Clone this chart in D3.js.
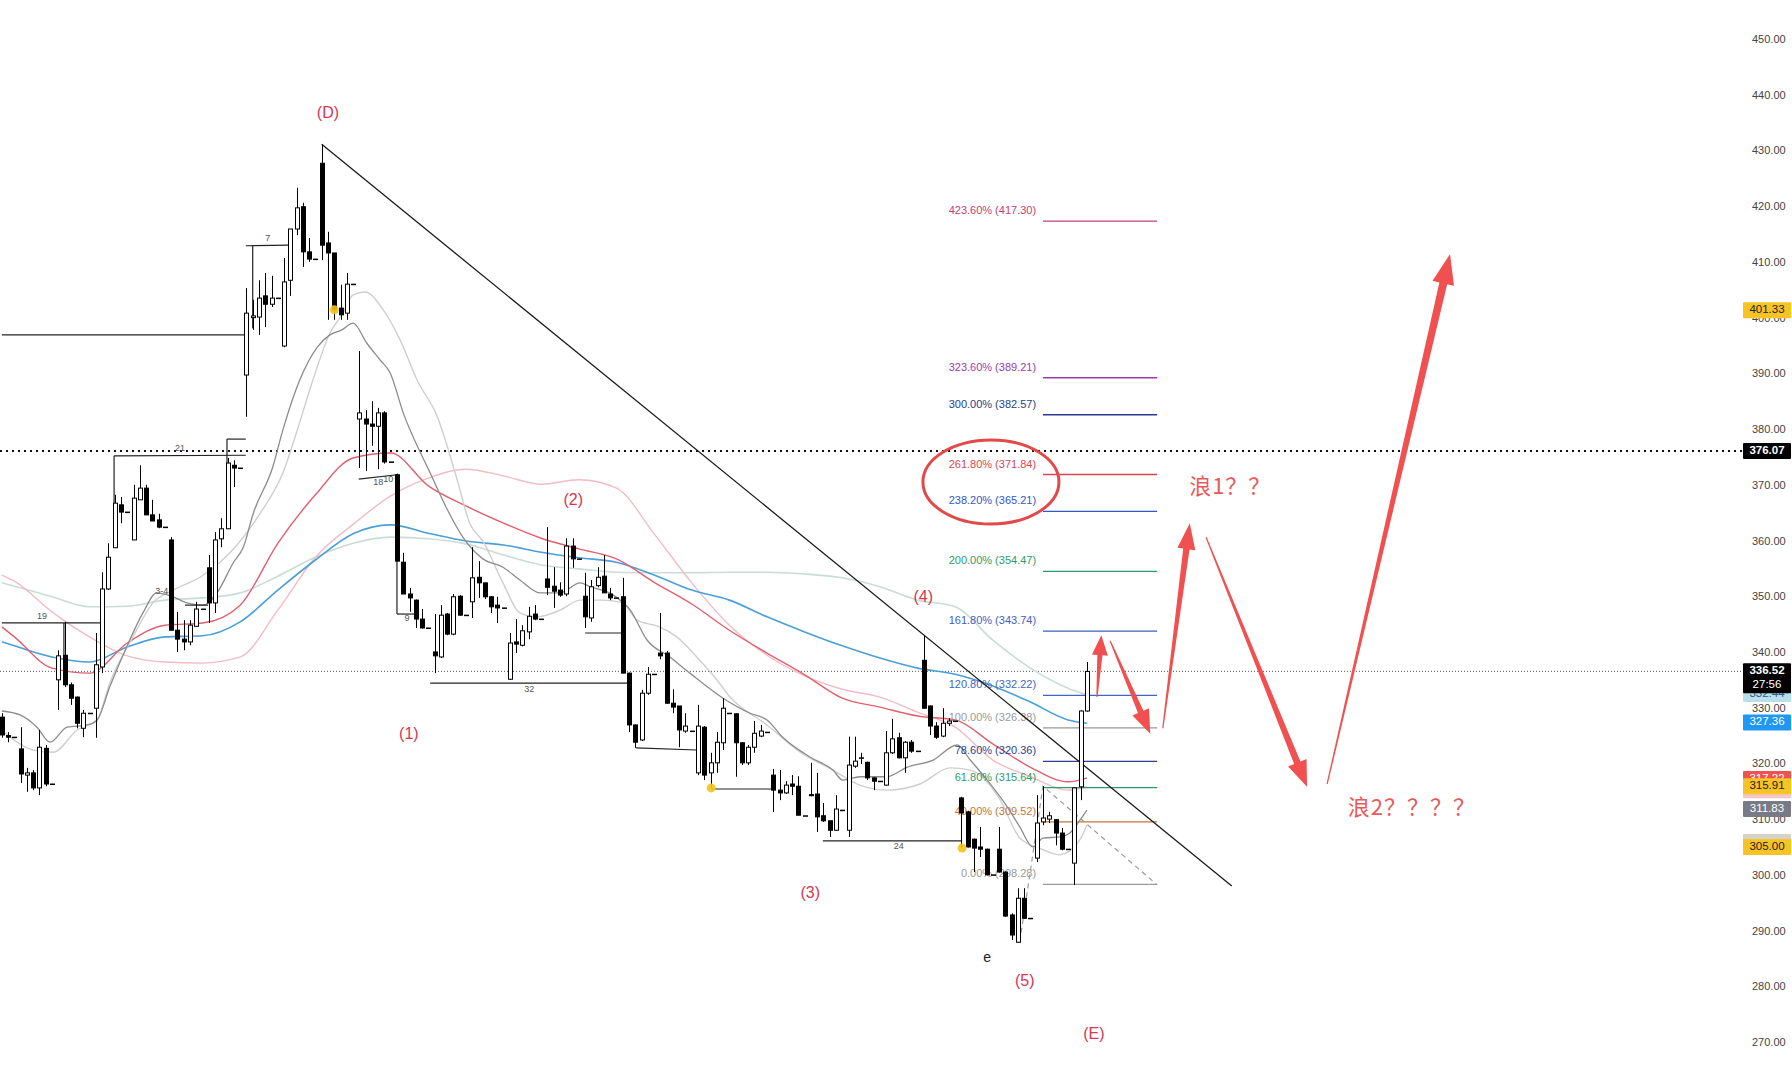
<!DOCTYPE html>
<html><head><meta charset="utf-8">
<script src="https://cdn.jsdelivr.net/npm/d3@7"></script>
<style>html,body{margin:0;padding:0;background:#fff;}svg{display:block;}</style>
</head><body>
<svg id="chart" width="1792" height="1080"></svg>
<script>
// ---------------- DATA ----------------
// one slot per trading period (index 0..173)
const opens = [328.3,325.0,324.7,322.6,317.9,318.3,315.6,322.7,316.3,335.0,339.4,334.1,331.9,326.3,329.0,329.9,337.3,351.3,358.7,366.4,365.1,360.1,367.3,369.4,364.6,363.7,362.4,360.1,343.9,342.3,341.8,344.6,347.7,355.1,348.8,360.3,362.1,373.5,373.0,389.7,400.0,400.1,403.9,402.4,403.5,394.9,406.7,415.9,419.9,411.8,410.5,427.7,413.4,411.6,401.7,400.8,406.0,381.8,381.8,380.9,380.5,382.9,374.1,371.8,356.1,350.4,349.3,345.9,344.3,340.0,339.1,346.8,343.2,350.0,346.6,349.0,353.4,352.4,349.9,348.4,347.9,335.1,341.8,341.2,343.6,346.8,345.9,353.1,351.8,351.1,350.4,359.0,356.7,350.0,346.1,351.9,353.6,350.4,349.7,349.9,336.2,326.9,324.2,332.6,336.0,339.8,339.8,330.8,330.3,325.8,325.8,318.3,326.5,318.3,320.1,323.7,329.0,328.9,323.7,320.1,322.9,324.9,325.6,317.9,315.2,314.7,316.3,315.9,310.6,314.4,314.5,310.6,309.7,308.0,311.6,308.0,319.5,321.0,320.2,317.4,316.8,316.1,321.9,324.6,321.0,323.8,322.2,338.5,330.3,326.7,324.9,327.2,327.6,313.8,311.3,306.4,305.0,304.6,300.0,304.6,300.5,292.8,287.9,295.8,292.2,303.0,309.5,310.0,309.9,307.5,304.6,302.1,315.8,329.4];
const highs = [329.0,325.6,324.7,326.5,319.2,318.8,326.0,323.3,316.3,340.3,345.4,334.5,332.0,329.6,329.0,343.4,354.3,359.5,368.2,367.8,365.1,370.0,373.5,370.0,367.3,364.8,362.4,360.6,347.2,345.7,345.7,349.0,347.7,357.4,361.5,364.0,374.8,374.4,373.0,405.3,403.2,406.7,408.0,407.5,403.5,410.7,415.9,423.3,420.6,414.3,410.5,431.0,415.4,411.6,405.9,408.0,406.0,394.0,383.4,385.0,383.8,383.2,374.1,372.0,357.8,351.5,349.4,347.7,344.3,346.8,348.4,347.0,350.4,350.2,346.6,358.8,356.3,352.4,350.0,349.9,347.9,343.4,345.9,344.8,348.1,348.4,345.9,362.4,355.2,352.5,360.4,360.4,356.7,354.2,352.9,355.2,357.4,351.5,349.7,353.3,336.3,327.0,333.2,337.3,336.0,347.0,340.2,333.3,330.3,329.0,325.8,330.5,326.7,321.9,325.6,331.7,329.0,329.0,323.8,323.3,327.6,326.9,325.6,319.0,318.8,316.8,317.9,317.7,310.6,320.1,318.3,312.9,309.7,314.3,311.6,324.8,324.8,321.9,320.3,317.5,316.8,325.8,328.0,325.5,324.0,324.2,322.2,342.9,330.4,327.4,329.9,328.1,327.6,314.0,311.5,306.5,308.6,304.7,300.0,308.6,300.6,293.1,297.6,297.6,292.2,314.3,315.9,311.3,310.0,308.4,304.6,315.7,329.5,338.2];
const lows = [324.6,323.8,324.7,316.5,314.9,315.2,314.3,315.9,316.3,329.6,333.7,330.5,326.3,324.7,329.0,324.6,336.2,351.1,358.7,363.1,365.1,360.1,367.3,364.6,363.5,362.2,362.4,343.9,340.0,340.3,341.2,344.5,347.7,345.2,347.0,358.8,362.1,369.6,373.0,382.2,397.8,396.9,398.3,401.9,403.5,394.7,403.9,414.8,409.1,410.0,410.5,410.3,399.6,399.6,399.6,399.6,406.0,373.0,372.5,377.0,372.8,373.8,374.1,356.3,350.4,347.2,344.3,344.2,344.3,336.2,338.9,343.0,343.0,346.5,346.6,346.1,349.7,349.5,347.0,345.2,347.9,335.0,339.8,341.0,342.3,345.7,345.9,350.2,347.9,349.9,350.0,355.1,356.7,344.3,345.4,351.6,350.6,349.3,349.7,336.2,325.6,322.8,324.0,332.3,336.0,338.7,330.7,329.0,322.9,325.5,325.8,317.9,317.0,315.6,318.3,322.4,329.0,317.6,319.7,319.7,321.9,324.7,325.6,311.3,313.4,314.5,314.3,310.7,310.6,314.1,307.7,309.5,306.8,307.9,311.6,306.8,319.2,319.9,317.0,315.2,316.8,316.0,321.7,320.9,318.3,321.9,322.2,329.8,325.1,324.4,324.7,326.7,327.6,304.8,304.9,300.5,303.2,299.9,300.0,300.4,292.5,288.3,287.8,292.1,292.2,302.3,308.9,309.3,305.3,304.4,304.6,298.2,313.4,329.3];
const closes = [325.1,324.7,324.7,318.1,318.3,315.6,322.9,316.3,316.3,339.3,334.1,331.7,327.2,329.0,329.0,337.7,351.3,357.0,366.7,365.1,365.1,367.6,369.4,364.6,363.5,362.4,362.4,343.9,342.3,341.8,344.8,347.7,347.7,348.8,360.1,362.1,373.9,373.0,373.0,400.8,400.3,403.5,402.4,403.5,403.5,406.4,415.9,419.7,411.8,410.5,410.5,413.0,411.6,401.4,400.5,406.0,406.0,382.9,380.9,380.5,382.9,374.1,374.1,356.3,350.4,349.7,345.9,344.3,344.3,339.3,346.6,343.2,349.9,346.6,346.6,353.3,352.4,349.9,348.1,347.9,347.9,341.6,341.4,343.8,346.4,345.9,345.9,351.6,350.9,350.2,359.0,356.7,356.7,346.3,351.7,353.4,350.6,349.7,349.7,336.2,326.9,323.8,332.6,336.0,336.0,339.3,330.8,330.1,326.0,326.7,325.8,326.7,317.9,320.1,323.8,329.9,329.0,323.7,320.1,322.9,325.4,325.8,325.6,315.2,314.7,316.1,315.9,310.7,310.6,314.2,310.4,309.7,308.0,311.8,311.6,319.7,320.4,321.0,317.4,316.8,316.8,321.9,324.4,321.0,323.8,322.2,322.2,329.9,326.7,324.7,327.2,327.6,327.6,311.1,305.0,304.8,304.6,300.0,300.0,300.5,292.6,289.2,295.8,292.2,292.2,309.3,310.2,310.6,307.5,304.6,304.6,315.6,329.4,336.5];

// moving averages read at sample slots
const maSlots = [0,2,8,14,20,26,32,38,44,50,56,62,68,74,80,86,92,98,104,110,116,122,128,134,140,146,152,158,164,170,173];
const tealMA = [352.4,351.8,349.9,348.1,348.2,349.3,349.7,350.6,353.6,357.0,359.5,360.6,360.3,359.4,357.4,355.6,354.9,354.3,354.2,354.2,354.3,354.3,354.0,353.3,351.7,349.3,348.1,342.1,337.1,333.5,332.3];
const blueMA = [341.8,341.1,339.1,338.2,340.9,342.7,342.9,345.4,351.1,356.5,361.2,362.8,361.3,359.9,359.2,357.9,356.9,356.1,353.8,351.1,349.3,346.3,343.6,341.1,338.9,337.1,336.0,333.9,331.0,327.8,327.2];
const pinkMA = [353.8,352.7,347.2,342.7,339.3,338.2,338.0,339.1,347.5,357.0,362.9,368.0,371.2,372.8,371.6,370.1,370.9,369.4,361.2,352.4,344.8,339.4,335.7,333.3,331.9,329.2,326.5,320.6,317.6,315.2,315.8];
const redMA = [344.5,342.7,337.1,336.2,341.6,344.8,345.2,348.4,359.5,368.2,374.8,375.7,369.8,366.2,363.1,360.4,358.5,356.7,352.5,348.6,343.9,339.8,335.9,331.7,330.1,328.5,327.8,323.5,319.3,316.7,317.4];
const darkGrayMA = [[0,329.4],[2.9,328.7],[5.6,326.5],[7.7,323.8],[10.4,326.5],[13.6,326.9],[15.2,327.8],[17.2,333.7],[19.9,340.9],[22.5,347.0],[24.7,350.6],[27.3,349.9],[29.5,348.8],[32.1,348.4],[34.3,350.6],[36.9,356.0],[38.5,358.8],[40.1,364.9],[43.2,373.2],[44.8,379.8],[47.5,388.8],[50.3,394.7],[52.3,396.9],[54.2,397.8],[56.0,399.0],[58.2,395.4],[60.3,392.4],[61.9,390.1],[64.0,382.9],[68.3,372.1],[71.0,365.6],[73.5,360.6],[76.7,356.7],[79.9,355.2],[82.6,352.9],[85.8,350.6],[89.0,350.6],[92.2,352.4],[93.8,351.7],[97.5,350.2],[100.2,347.5],[102.9,342.1],[106.5,339.1],[109.7,336.2],[115.0,331.7],[119.3,329.0],[122.0,327.8],[124.5,324.7],[128.9,321.1],[132.5,318.8],[134.1,317.0],[136.8,317.6],[141.1,317.6],[144.3,319.3],[148.5,320.6],[152.3,323.3],[154.4,320.6],[157.1,317.0],[160.3,312.2],[162.3,308.6],[164.4,305.0],[166.0,306.6],[168.7,306.8],[170.3,307.5],[171.9,309.8],[173.0,311.6]];
const lightGrayMA = [[0,326.0],[5.0,322.4],[8.2,322.0],[12.0,326.0],[15.2,327.8],[17.2,334.4],[20.9,342.7],[24.1,348.8],[27.3,351.1],[31.6,353.4],[34.8,356.1],[37.5,359.2],[41.2,364.9],[44.8,372.1],[47.1,379.8],[49.6,388.8],[52.3,397.2],[54.4,400.8],[56.0,404.1],[57.9,404.6],[60.8,401.4],[63.5,396.0],[66.2,388.8],[69.4,382.3],[72.6,370.9],[74.6,363.1],[76.7,359.9],[79.9,352.4],[82.6,347.0],[85.3,346.3],[89.0,347.5],[92.2,349.3],[95.9,349.3],[99.0,348.8],[101.3,345.7],[104.9,344.5],[107.6,342.7],[110.8,339.1],[114.0,335.0],[116.1,331.9],[122.0,326.9],[127.3,322.0],[132.5,318.8],[136.8,316.1],[141.1,315.2],[146.4,316.3],[151.2,319.2],[154.4,318.8],[159.2,313.4],[162.3,306.6],[166.0,304.5],[168.7,303.6],[171.9,306.3],[173.0,309.0]];

// fibonacci extension levels
const fibRatios = [423.6,323.6,300.0,261.8,238.2,200.0,161.8,120.8,100.0,78.6,61.8,40.0,0.0];
const fibPrices = [417.30,389.21,382.57,371.84,365.21,354.47,343.74,332.22,326.38,320.36,315.64,309.52,298.28];
const fibColors = ['#c2407a','#9c3ca8','#2b3d8f','#d9474f','#3456c6','#2e9a6a','#3f5fc4','#3f66c4','#9a9a9a','#2e3f8f','#2e9a6a','#c4773c','#9a9a9a'];
const fibFrom = 166.0, fibTo = 184.2, fibLabelAt = 164.9;

// axis
const tickValues = [270,280,290,300,310,320,330,340,350,360,370,380,390,400,410,420,430,440,450];
const boxValues = [401.33,376.07,332.44,336.52,327.36,317.22,315.20,315.91,311.83,305.90,305.00];
const boxTexts  = ['401.33','376.07','332.44','336.52','327.36','317.22','','315.91','311.83','','305.00'];
const boxBg     = ['#f7c325','#000000','#b9e0ea','#000000','#2196f3','#ef5350','#f5c6cc','#f7c325','#787b86','#d4d4cc','#f7c325'];
const boxFg     = ['#222','#fff','#2a5a8a','#fff','#fff','#fff','#222','#222','#fff','#222','#222'];

// wave labels [slot, price, text]
const waveLabels = [[52.0,436.5,'(D)'],[64.9,325.1,'(1)'],[91.1,367.1,'(2)'],[128.9,296.6,'(3)'],[146.9,349.7,'(4)'],[163.1,280.8,'(5)'],[174.1,271.3,'(E)']];
const trendLine = [[51.0,431.1],[196.1,298.0]];
const markerDots = [[53.0,401.4],[113.1,315.6],[153.1,304.8]];
// bracket segments [[slot,price],[slot,price]]
const brackets = [
 [[0,396.9],[38.9,396.9]],
 [[38.9,412.9],[45.8,413.0]],[[40.0,412.9],[40.0,398.1]],
 [[17.9,375.2],[38.9,375.3]],[[17.9,375.2],[17.9,366.7]],
 [[35.9,378.2],[38.9,378.2]],[[35.9,378.2],[35.9,373.9]],
 [[0,345.2],[15.7,345.2]],[[9.9,345.2],[9.9,339.1]],
 [[29.2,348.4],[32.9,348.4]],
 [[56.9,371.0],[63.0,371.8]],[[63.0,371.8],[63.0,346.8]],[[63.0,346.8],[66.2,346.8]],
 [[68.3,334.4],[99.7,334.4]],
 [[93.0,343.4],[99.0,343.4]],
 [[101.1,322.8],[110.8,322.4]],
 [[113.1,315.4],[123.1,315.4]],
 [[130.9,306.1],[153.1,306.1]]
];
const bracketLabels = [[42.4,414.1,'7'],[28.4,376.4,'21'],[6.4,346.3,'19'],[25.5,350.9,'3-4'],[60.0,370.3,'18'],[61.6,371.0,'10'],[64.6,345.9,'9'],[84.1,333.3,'32'],[143.0,305.0,'24']];
const fibPath = [[162.3,288.0],[166.0,315.9],[184.2,298.2]];
// projection arrows [tail, head]
const arrows = [
 [[174.6,331.9],[175.3,343.0]],
 [[176.7,342.0],[183.1,325.3]],
 [[185.1,326.3],[189.4,363.1]],
 [[192.0,360.6],[208.1,315.8]],
 [[211.3,316.3],[230.9,411.4]]
];
const waveNotes = [[189.3,369.4,'浪1？？'],[214.6,311.8,'浪2？？？？']];
const circleAt = [157.7,370.5];
const lastPrice = 336.52, markLine = 376.07, countdown = '27:56';

// ---------------- CHART ----------------
const svg = d3.select('#chart');
const x = d3.scaleLinear().domain([0,173]).range([1.82,1086.9]);
const y = d3.scaleLinear().domain([270,450]).range([1042,39]);
const px = s => x(s), py = v => y(v);

// axis labels
const axis = d3.axisRight(y).tickValues(tickValues).tickSize(0).tickPadding(10).tickFormat(d3.format('.2f'));
const ag = svg.append('g').attr('transform','translate(1742,0)').call(axis);
ag.select('.domain').remove();
ag.selectAll('text').attr('font-family','Liberation Sans, Arial, sans-serif').attr('font-size',11).attr('fill','#444');

// dotted lines
svg.append('line').attr('x1',0).attr('x2',1742).attr('y1',py(markLine)).attr('y2',py(markLine))
  .attr('stroke','#111').attr('stroke-width',2).attr('stroke-dasharray','2,4');
svg.append('line').attr('x1',0).attr('x2',1742).attr('y1',py(lastPrice)).attr('y2',py(lastPrice))
  .attr('stroke','#555').attr('stroke-width',1).attr('stroke-dasharray','1,2');

// moving averages
const lineGen = d3.line().x(d=>px(d[0])).y(d=>py(d[1])).curve(d3.curveMonotoneX);
const zipMA = arr => maSlots.map((s,i)=>[s,arr[i]]);
const maDefs = [[zipMA(tealMA),'#c9ddd6',1.6],[zipMA(pinkMA),'#f3bcc4',1.4],[zipMA(blueMA),'#4a9fd8',1.6],[zipMA(redMA),'#e0606e',1.4],[lightGrayMA,'#cfcfcf',1.4],[darkGrayMA,'#8c8c8c',1.3]];
maDefs.forEach(([d,c,w])=>svg.append('path').attr('d',lineGen(d)).attr('fill','none').attr('stroke',c).attr('stroke-width',w));

// brackets
brackets.forEach(b=>svg.append('line').attr('x1',px(b[0][0])).attr('y1',py(b[0][1])).attr('x2',px(b[1][0])).attr('y2',py(b[1][1])).attr('stroke','#222').attr('stroke-width',1.2));
bracketLabels.forEach(b=>svg.append('text').attr('x',px(b[0])).attr('y',py(b[1])).attr('text-anchor','middle').attr('dominant-baseline','middle')
  .attr('font-family','Liberation Sans, Arial, sans-serif').attr('font-size',9).attr('fill','#555').text(b[2]));

// fib lines
fibPrices.forEach((p,i)=>{
  svg.append('line').attr('x1',px(fibFrom)).attr('x2',px(fibTo)).attr('y1',py(p)).attr('y2',py(p)).attr('stroke',fibColors[i]).attr('stroke-width',1.3);
  svg.append('text').attr('x',px(fibLabelAt)).attr('y',py(p)-7).attr('text-anchor','end')
    .attr('font-family','Liberation Sans, Arial, sans-serif').attr('font-size',11).attr('fill',fibColors[i])
    .text(fibRatios[i].toFixed(2)+'% ('+p.toFixed(2)+')');
});
svg.append('path').attr('d',d3.line().x(d=>px(d[0])).y(d=>py(d[1]))(fibPath)).attr('fill','none')
  .attr('stroke','#9a9a9a').attr('stroke-width',1.2).attr('stroke-dasharray','5,4');

// trend line
svg.append('line').attr('x1',px(trendLine[0][0])).attr('y1',py(trendLine[0][1])).attr('x2',px(trendLine[1][0])).attr('y2',py(trendLine[1][1]))
  .attr('stroke','#1a1a1a').attr('stroke-width',1.3);

// candles
const cg = svg.append('g');
opens.forEach((o,i)=>{
  if(o==null) return;
  const h=highs[i], l=lows[i], c=closes[i];
  const cx = Math.round(px(i))+0.5;
  cg.append('line').attr('x1',cx).attr('x2',cx).attr('y1',py(h)).attr('y2',py(l)).attr('stroke','#000').attr('stroke-width',1);
  const top = py(Math.max(o,c)), bot = py(Math.min(o,c));
  const up = c>=o;
  cg.append('rect').attr('x',cx-2).attr('width',4).attr('y',top).attr('height',Math.max(0.5,bot-top))
    .attr('fill',up?'#fff':'#000').attr('stroke','#000').attr('stroke-width',1);
});

// marker dots
markerDots.forEach(d=>svg.append('circle').attr('cx',px(d[0])).attr('cy',py(d[1])).attr('r',4.5).attr('fill','#f5c21b').attr('opacity',0.9));

// wave labels
waveLabels.forEach(d=>svg.append('text').attr('x',px(d[0])).attr('y',py(d[1])).attr('text-anchor','middle').attr('dominant-baseline','middle')
  .attr('font-family','Liberation Sans, Arial, sans-serif').attr('font-size',16).attr('fill','#d9364f').text(d[2]));
svg.append('text').attr('x',px(157.1)).attr('y',py(285.0)).attr('text-anchor','middle').attr('dominant-baseline','middle')
  .attr('font-family','Liberation Sans, Arial, sans-serif').attr('font-size',14).attr('fill','#222').text('e');

// ellipse
svg.append('ellipse').attr('cx',px(circleAt[0])).attr('cy',py(circleAt[1])).attr('rx',68).attr('ry',42)
  .attr('fill','none').attr('stroke','#e24a4a').attr('stroke-width',3);

// arrows
const arrowSizes = [[20,8,2.6],[24,9,3],[26,9,3.2],[26,10,3.4],[30,11,4]];
arrows.forEach((a,k)=>{
  const [hl,hw,sw] = arrowSizes[k];
  const x1=px(a[0][0]), y1=py(a[0][1]), x2=px(a[1][0]), y2=py(a[1][1]);
  const dx=x2-x1, dy=y2-y1, L=Math.hypot(dx,dy), ux=dx/L, uy=dy/L, nx=-uy, ny=ux;
  const bx=x2-ux*hl, by=y2-uy*hl;
  const pts=[[x1+nx*0.6,y1+ny*0.6],[bx+nx*sw,by+ny*sw],[bx+nx*hw,by+ny*hw],[x2,y2],[bx-nx*hw,by-ny*hw],[bx-nx*sw,by-ny*sw],[x1-nx*0.6,y1-ny*0.6]];
  svg.append('polygon').attr('points',pts.map(p=>p.join(',')).join(' ')).attr('fill','#f05050');
});

// wave notes
waveNotes.forEach(d=>svg.append('text').attr('x',px(d[0])).attr('y',py(d[1])).attr('dominant-baseline','middle')
  .attr('font-family','Noto Sans CJK SC, sans-serif').attr('font-size',22).attr('letter-spacing',1).attr('fill','#e85a5a').text(d[2]));

// price boxes on axis
boxValues.forEach((v,i)=>{
  const cy = py(v);
  const two = v===lastPrice;
  svg.append('rect').attr('x',1743).attr('y',cy-8).attr('width',48).attr('height',two?30:16).attr('rx',1).attr('fill',boxBg[i]);
  if(boxTexts[i]) svg.append('text').attr('x',1767).attr('y',cy).attr('text-anchor','middle').attr('dominant-baseline','middle')
    .attr('font-family','Liberation Sans, Arial, sans-serif').attr('font-size',11.5).attr('font-weight',v===markLine||two?'bold':'normal').attr('fill',boxFg[i]).text(boxTexts[i]);
  if(two) svg.append('text').attr('x',1767).attr('y',cy+14).attr('text-anchor','middle').attr('dominant-baseline','middle')
    .attr('font-family','Liberation Sans, Arial, sans-serif').attr('font-size',11.5).attr('fill','#fff').text(countdown);
});
</script>
</body></html>
